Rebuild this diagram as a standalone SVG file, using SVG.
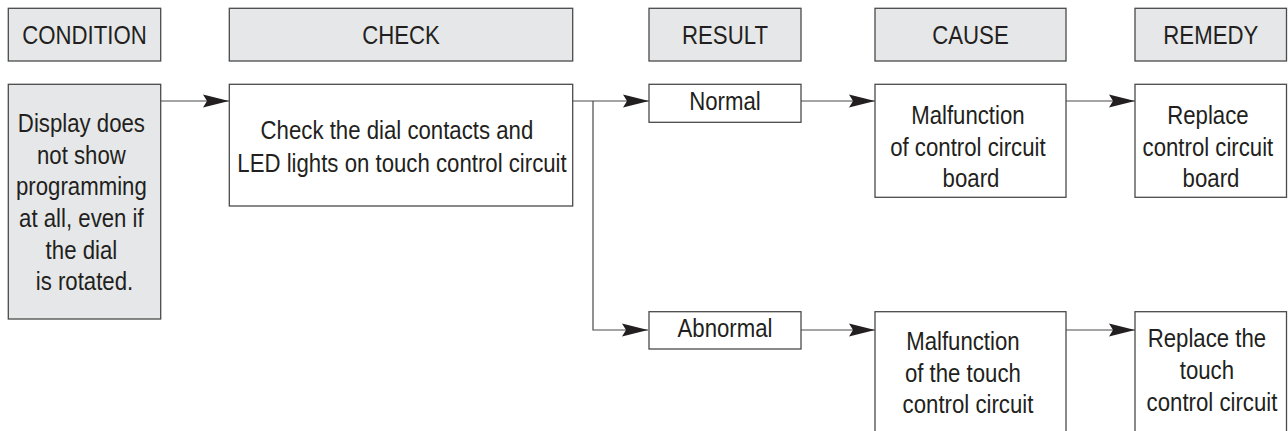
<svg xmlns="http://www.w3.org/2000/svg" width="1288" height="431" viewBox="0 0 1288 431">
<style>
.hdr{fill:#e6e7e8;stroke:#4a4a4a;stroke-width:1.3}
.box{fill:#ffffff;stroke:#4a4a4a;stroke-width:1.3}
.gbox{fill:#e6e7e8;stroke:#4a4a4a;stroke-width:1.3}
.t{font-family:"Liberation Sans",Arial,sans-serif;font-size:22.2px;fill:#231f20;text-anchor:middle}
.ln{fill:none;stroke:#4a4a4a;stroke-width:1.2}
</style>
<defs>
<marker id="ah" markerUnits="userSpaceOnUse" markerWidth="28" markerHeight="16" viewBox="-27 -8 28 16" refX="0" refY="0" orient="auto">
<path d="M0,0 L-26,-6.5 L-22,0 L-26,6.5 Z" fill="#231f20"/>
</marker>
</defs>
<rect width="1288" height="431" fill="#ffffff"/>
<g id="headers">
<g id="h-condition"><rect class="hdr" x="8.3" y="8.3" width="152.4" height="52.7"/><text class="t" transform="scale(1 1.2)" x="84.5" y="36.7">CONDITION</text></g>
<g id="h-check"><rect class="hdr" x="229.3" y="8.3" width="343.4" height="52.7"/><text class="t" transform="scale(1 1.2)" x="401" y="36.7">CHECK</text></g>
<g id="h-result"><rect class="hdr" x="649" y="8.3" width="152" height="52.7"/><text class="t" transform="scale(1 1.2)" x="725" y="36.7">RESULT</text></g>
<g id="h-cause"><rect class="hdr" x="875" y="8.3" width="191" height="52.7"/><text class="t" transform="scale(1 1.2)" x="970.5" y="36.7">CAUSE</text></g>
<g id="h-remedy"><rect class="hdr" x="1135" y="8.3" width="151.5" height="52.7"/><text class="t" transform="scale(1 1.2)" x="1210.8" y="36.7">REMEDY</text></g>
</g>
<g id="connectors">
<path class="ln" d="M160.7,101 H229" marker-end="url(#ah)"/>
<path class="ln" d="M572.7,101 H649" marker-end="url(#ah)"/>
<path class="ln" d="M593,101 V330 H648" marker-end="url(#ah)"/>
<path class="ln" d="M801,101 H875" marker-end="url(#ah)"/>
<path class="ln" d="M801,330 H875" marker-end="url(#ah)"/>
<path class="ln" d="M1066,101 H1135" marker-end="url(#ah)"/>
<path class="ln" d="M1066,330 H1135" marker-end="url(#ah)"/>
</g>
<g id="n-condition">
<rect class="gbox" x="8.3" y="84.3" width="152.4" height="234.7"/>
<text class="t" transform="scale(1 1.2)">
<tspan x="84.5" y="110">Display does</tspan>
<tspan x="84.5" y="136.4">not show</tspan>
<tspan x="84.5" y="162.75">programming</tspan>
<tspan x="84.5" y="189.2">at all, even if</tspan>
<tspan x="84.5" y="215.6">the dial</tspan>
<tspan x="84.5" y="241.9">is rotated.</tspan>
</text>
</g>
<g id="n-check">
<rect class="box" x="229.3" y="84.3" width="343.4" height="121.7"/>
<text class="t" transform="scale(1 1.2)">
<tspan x="400" y="116.1">Check the dial contacts and</tspan>
<tspan x="402" y="143.1">LED lights on touch control circuit</tspan>
</text>
</g>
<g id="n-normal">
<rect class="box" x="649" y="84.3" width="152" height="38"/>
<text class="t" transform="scale(1 1.2)" x="725" y="91.7">Normal</text>
</g>
<g id="n-abnormal">
<rect class="box" x="649" y="311.7" width="152" height="37.3"/>
<text class="t" transform="scale(1 1.2)" x="725" y="280.6">Abnormal</text>
</g>
<g id="n-cause1">
<rect class="box" x="875" y="84.3" width="191" height="113"/>
<text class="t" transform="scale(1 1.2)">
<tspan x="971" y="103.3">Malfunction</tspan>
<tspan x="971" y="129.9">of control circuit</tspan>
<tspan x="971" y="155.8">board</tspan>
</text>
</g>
<g id="n-remedy1">
<rect class="box" x="1135" y="84.3" width="151.5" height="113"/>
<text class="t" transform="scale(1 1.2)">
<tspan x="1211" y="103.3">Replace</tspan>
<tspan x="1211" y="129.9">control circuit</tspan>
<tspan x="1211" y="155.8">board</tspan>
</text>
</g>
<g id="n-cause2">
<rect class="box" x="875" y="311.7" width="191" height="140"/>
<text class="t" transform="scale(1 1.2)">
<tspan x="966" y="291.7">Malfunction</tspan>
<tspan x="966" y="318.1">of the touch</tspan>
<tspan x="968" y="344.4">control circuit</tspan>
</text>
</g>
<g id="n-remedy2">
<rect class="box" x="1135" y="311.7" width="151.5" height="140"/>
<text class="t" transform="scale(1 1.2)">
<tspan x="1210" y="288.9">Replace the</tspan>
<tspan x="1210" y="315.8">touch</tspan>
<tspan x="1212" y="342.5">control circuit</tspan>
</text>
</g>
</svg>
